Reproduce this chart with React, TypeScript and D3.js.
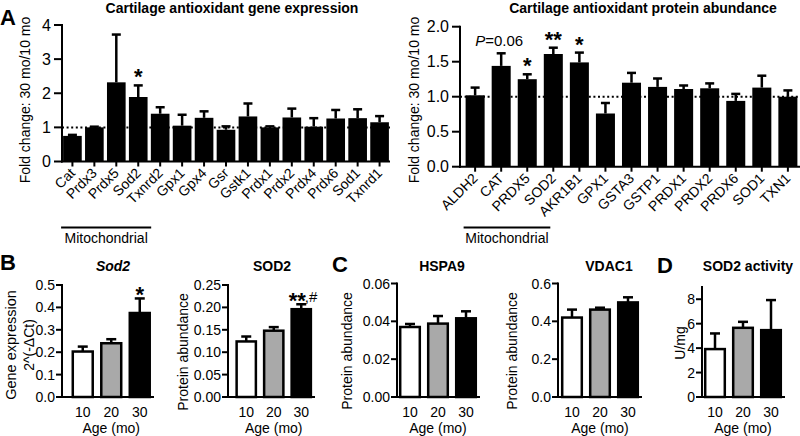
import React from "react";
import * as d3 from "d3";

const FONT = "'Liberation Sans', Arial, Helvetica, sans-serif";

// ---------- Panel A (left): gene expression ----------
const geneCats = ["Cat", "Prdx3", "Prdx5", "Sod2", "Txnrd2", "Gpx1", "Gpx4", "Gsr", "Gstk1", "Prdx1", "Prdx2", "Prdx4", "Prdx6", "Sod1", "Txnrd1"];
const geneMean = [0.75, 1.0, 2.32, 1.89, 1.4, 1.05, 1.28, 0.93, 1.32, 1.0, 1.29, 1.02, 1.26, 1.27, 1.15];
const geneErr = [0.03, 0.02, 1.4, 0.34, 0.19, 0.32, 0.19, 0.1, 0.38, 0.03, 0.26, 0.25, 0.25, 0.26, 0.18];
const geneSig = ["", "", "", "*", "", "", "", "", "", "", "", "", "", "", ""];
const geneTicks = [0, 1, 2, 3, 4];

// ---------- Panel A (right): protein abundance ----------
const protCats = ["ALDH2", "CAT", "PRDX5", "SOD2", "AKR1B1", "GPX1", "GSTA3", "GSTP1", "PRDX1", "PRDX2", "PRDX6", "SOD1", "TXN1"];
const protMean = [1.02, 1.44, 1.25, 1.61, 1.49, 0.76, 1.2, 1.14, 1.11, 1.12, 0.94, 1.13, 1.0];
const protErr = [0.11, 0.18, 0.07, 0.09, 0.14, 0.15, 0.14, 0.12, 0.05, 0.07, 0.1, 0.17, 0.09];
const protSig = ["", "P=0.06", "*", "**", "*", "", "", "", "", "", "", "", ""];
const protTicks = [0, 0.5, 1.0, 1.5, 2.0];

// ---------- Panels B, C, D: by age ----------
const ageCats = ["10", "20", "30"];
const ageFills = ["#ffffff", "#a9a9a9", "#000000"];

const sod2GeneMean = [0.203, 0.24, 0.375];
const sod2GeneErr = [0.022, 0.018, 0.065];
const sod2GeneSig = ["", "", "*"];
const sod2GeneTicks = [0, 0.1, 0.2, 0.3, 0.4, 0.5];

const sod2ProtMean = [0.124, 0.148, 0.196];
const sod2ProtErr = [0.011, 0.008, 0.011];
const sod2ProtSig = ["", "", "**,#"];
const sod2ProtTicks = [0, 0.05, 0.1, 0.15, 0.2, 0.25];

const hspa9Mean = [0.037, 0.0388, 0.0416];
const hspa9Err = [0.0016, 0.004, 0.0037];
const hspa9Ticks = [0, 0.02, 0.04, 0.06];

const vdac1Mean = [0.42, 0.462, 0.5];
const vdac1Err = [0.042, 0.01, 0.027];
const vdac1Ticks = [0, 0.2, 0.4, 0.6];

const sod2ActMean = [3.92, 5.66, 5.47];
const sod2ActErr = [1.28, 0.49, 2.46];
const sod2ActTicks = [0, 2, 4, 6, 8];

const noSig = ["", "", ""];

type TopProps = {
  cats: string[];
  means: number[];
  errs: number[];
  sig: string[];
  axisX: number;
  xRange: [number, number];
  pIn: number;
  pOut: number;
  y0: number;
  yTop: number;
  yMax: number;
  ticks: number[];
  fmt: (v: number) => string;
  title: string;
  titleX: number;
  yLabelX: number;
  bracketEndIdx: number;
  bracketEndOff: number;
};

function Sig({ s, x, y }: { s: string; x: number; y: number }) {
  if (!s) return null;
  if (s.startsWith("P=")) {
    return (
      <text x={x - 2} y={y - 6} textAnchor="middle" fontSize={15}>
        <tspan fontStyle="italic">P</tspan>
        {s.slice(1)}
      </text>
    );
  }
  if (s.includes(",")) {
    const [st, rest] = s.split(",");
    return (
      <g>
        <text x={x - 4} y={y + 3.5} textAnchor="middle" fontSize={22} fontWeight="bold">{st}</text>
        <text x={x + 3.5} y={y - 2} textAnchor="start" fontSize={15}>{"," + rest}</text>
      </g>
    );
  }
  return (
    <text x={x} y={y} textAnchor="middle" fontSize={22} fontWeight="bold">{s}</text>
  );
}

function TopPanel(p: TopProps) {
  const x = d3.scaleBand<string>().domain(p.cats).range(p.xRange).paddingInner(p.pIn).paddingOuter(p.pOut);
  const y = d3.scaleLinear().domain([0, p.yMax]).range([p.y0, p.yTop]);
  const bw = x.bandwidth();
  const cx = (c: string) => (x(c) as number) + bw / 2;
  const xEnd = p.xRange[1];
  const capW = 9;
  const tickLen = 8;
  const bStart = (x(p.cats[0]) as number) - 2;
  const bEnd = cx(p.cats[p.bracketEndIdx]) + p.bracketEndOff;
  return (
    <g>
      <text x={p.titleX} y={13} textAnchor="middle" fontWeight="bold" fontSize={14}>{p.title}</text>
      <line x1={p.axisX} x2={xEnd} y1={y(1)} y2={y(1)} stroke="#000" strokeWidth={2} strokeDasharray="2,2.6" />
      {p.cats.map((c, i) => (
        <rect key={"b" + c} x={x(c)} y={y(p.means[i])} width={bw} height={p.y0 - y(p.means[i])} fill="#000" />
      ))}
      {p.cats.map((c, i) => (
        <g key={"e" + c} stroke="#000" strokeWidth={2.5}>
          <line x1={cx(c)} x2={cx(c)} y1={y(p.means[i])} y2={y(p.means[i] + p.errs[i])} />
          <line x1={cx(c) - capW / 2} x2={cx(c) + capW / 2} y1={y(p.means[i] + p.errs[i])} y2={y(p.means[i] + p.errs[i])} />
        </g>
      ))}
      {p.cats.map((c, i) => (
        <Sig key={"s" + c} s={p.sig[i]} x={cx(c)} y={y(p.means[i] + p.errs[i]) - 1} />
      ))}
      {/* y axis */}
      <line x1={p.axisX} x2={p.axisX} y1={p.y0 + 1} y2={y(p.yMax) - 1} stroke="#000" strokeWidth={2} />
      {p.ticks.map((t) => (
        <g key={"yt" + t}>
          <line x1={p.axisX - tickLen} x2={p.axisX} y1={y(t)} y2={y(t)} stroke="#000" strokeWidth={2} />
          <text x={p.axisX - tickLen - 3} y={y(t)} dy="0.36em" textAnchor="end" fontSize={16}>{p.fmt(t)}</text>
        </g>
      ))}
      {/* x axis */}
      <line x1={p.axisX - 1} x2={xEnd} y1={p.y0} y2={p.y0} stroke="#000" strokeWidth={2} />
      {p.cats.map((c) => (
        <g key={"xt" + c}>
          <line x1={cx(c)} x2={cx(c)} y1={p.y0} y2={p.y0 + 5} stroke="#000" strokeWidth={2} />
          <text transform={`translate(${cx(c)},${p.y0 + 9}) rotate(-45)`} dy="0.35em" textAnchor="end" fontSize={14}>{c}</text>
        </g>
      ))}
      {/* y label */}
      <text transform={`translate(${p.yLabelX},100) rotate(-90)`} textAnchor="middle" fontSize={14}>Fold change: 30 mo/10 mo</text>
      {/* bracket */}
      <line x1={bStart} x2={bEnd} y1={227.5} y2={227.5} stroke="#000" strokeWidth={2} />
      <text x={(bStart + bEnd) / 2} y={243} textAnchor="middle" fontSize={14}>Mitochondrial</text>
    </g>
  );
}

type SmallProps = {
  means: number[];
  errs: number[];
  sig: string[];
  sigOff: number;
  axisX: number;
  xRange: [number, number];
  yTop: number;
  yMax: number;
  ticks: number[];
  fmt: (v: number) => string;
  title: string;
  italic?: boolean;
  titleX: number;
  yLabels: { text: string; x: number; size?: number }[];
  yLabelY: number;
};

function SmallPanel(p: SmallProps) {
  const y0 = 397;
  const x = d3.scaleBand<string>().domain(ageCats).range(p.xRange).paddingInner(0.3).paddingOuter(0.15);
  const y = d3.scaleLinear().domain([0, p.yMax]).range([y0, p.yTop]);
  const bw = x.bandwidth();
  const cx = (c: string) => (x(c) as number) + bw / 2;
  const capW = 10;
  const tickLen = 6;
  const midX = (cx(ageCats[0]) + cx(ageCats[ageCats.length - 1])) / 2;
  return (
    <g>
      <text x={p.titleX} y={270.5} textAnchor="middle" fontWeight="bold" fontStyle={p.italic ? "italic" : "normal"} fontSize={14}>{p.title}</text>
      {ageCats.map((c, i) => (
        <g key={"e" + c} stroke="#000" strokeWidth={2.5}>
          <line x1={cx(c)} x2={cx(c)} y1={y(p.means[i])} y2={y(p.means[i] + p.errs[i])} />
          <line x1={cx(c) - capW / 2} x2={cx(c) + capW / 2} y1={y(p.means[i] + p.errs[i])} y2={y(p.means[i] + p.errs[i])} />
        </g>
      ))}
      {ageCats.map((c, i) => (
        <rect key={"b" + c} x={x(c)} y={y(p.means[i])} width={bw} height={y0 - y(p.means[i])} fill={ageFills[i]} stroke="#000" strokeWidth={2.5} />
      ))}
      {ageCats.map((c, i) => (
        <Sig key={"s" + c} s={p.sig[i]} x={cx(c)} y={y(p.means[i] + p.errs[i]) + p.sigOff} />
      ))}
      <line x1={p.axisX} x2={p.axisX} y1={y0 + 1} y2={y(p.yMax) - 1} stroke="#000" strokeWidth={2} />
      {p.ticks.map((t) => (
        <g key={"yt" + t}>
          <line x1={p.axisX - tickLen} x2={p.axisX} y1={y(t)} y2={y(t)} stroke="#000" strokeWidth={2} />
          <text x={p.axisX - tickLen - 1} y={y(t)} dy="0.36em" textAnchor="end" fontSize={14}>{p.fmt(t)}</text>
        </g>
      ))}
      <line x1={p.axisX - 1} x2={p.xRange[1]} y1={y0} y2={y0} stroke="#000" strokeWidth={2} />
      {ageCats.map((c) => (
        <text key={"xl" + c} x={cx(c)} y={417} textAnchor="middle" fontSize={14}>{c}</text>
      ))}
      <text x={midX} y={433} textAnchor="middle" fontSize={14}>Age (mo)</text>
      {p.yLabels.map((l) => (
        <text key={l.text} transform={`translate(${l.x},${p.yLabelY}) rotate(-90)`} textAnchor="middle" fontSize={l.size ?? 14}>{l.text}</text>
      ))}
    </g>
  );
}

export default function App() {
  const f0 = d3.format("d");
  const f1 = d3.format(".1f");
  const f2 = d3.format(".2f");
  return (
    <svg width={800} height={436} style={{ position: "absolute", left: 0, top: 0, background: "#fff" }} fontFamily={FONT}>
      <rect x={0} y={0} width={800} height={436} fill="#fff" />
      <text x={0} y={25} fontSize={22} fontWeight="bold">A</text>
      <text x={0} y={270} fontSize={22} fontWeight="bold">B</text>
      <text x={332} y={271.5} fontSize={22} fontWeight="bold">C</text>
      <text x={657} y={273} fontSize={22} fontWeight="bold">D</text>

      <TopPanel
        cats={geneCats} means={geneMean} errs={geneErr} sig={geneSig}
        axisX={62} xRange={[62, 390]} pIn={0.15} pOut={0.05}
        y0={161.5} yTop={25} yMax={4} ticks={geneTicks} fmt={f0}
        title="Cartilage antioxidant gene expression" titleX={232} yLabelX={30}
        bracketEndIdx={4} bracketEndOff={-9}
      />
      <TopPanel
        cats={protCats} means={protMean} errs={protErr} sig={protSig}
        axisX={460} xRange={[463, 800]} pIn={0.27} pOut={0.1}
        y0={166.7} yTop={26.7} yMax={2} ticks={protTicks} fmt={f1}
        title="Cartilage antioxidant protein abundance" titleX={643} yLabelX={419}
        bracketEndIdx={3} bracketEndOff={-3}
      />

      <SmallPanel
        means={sod2GeneMean} errs={sod2GeneErr} sig={sod2GeneSig} sigOff={4}
        axisX={62} xRange={[68.5, 154]} yTop={285} yMax={0.5} ticks={sod2GeneTicks} fmt={f1}
        title="Sod2" italic titleX={113}
        yLabels={[{ text: "Gene expression", x: 16, size: 14.5 }, { text: "2^(-ΔCt)", x: 34 }]} yLabelY={345}
      />
      <SmallPanel
        means={sod2ProtMean} errs={sod2ProtErr} sig={sod2ProtSig} sigOff={0}
        axisX={228} xRange={[232.5, 315]} yTop={285} yMax={0.25} ticks={sod2ProtTicks} fmt={f2}
        title="SOD2" titleX={272}
        yLabels={[{ text: "Protein abundance", x: 188 }]} yLabelY={352}
      />
      <SmallPanel
        means={hspa9Mean} errs={hspa9Err} sig={noSig} sigOff={0}
        axisX={397} xRange={[396, 480]} yTop={283.5} yMax={0.06} ticks={hspa9Ticks} fmt={f2}
        title="HSPA9" titleX={442}
        yLabels={[{ text: "Protein abundance", x: 352 }]} yLabelY={351}
      />
      <SmallPanel
        means={vdac1Mean} errs={vdac1Err} sig={noSig} sigOff={0}
        axisX={558} xRange={[558, 642]} yTop={283.5} yMax={0.6} ticks={vdac1Ticks} fmt={f1}
        title="VDAC1" titleX={609}
        yLabels={[{ text: "Protein abundance", x: 517 }]} yLabelY={351}
      />
      <SmallPanel
        means={sod2ActMean} errs={sod2ActErr} sig={noSig} sigOff={0}
        axisX={702} xRange={[701, 785]} yTop={287} yMax={9} ticks={sod2ActTicks} fmt={f0}
        title="SOD2 activity" titleX={748}
        yLabels={[{ text: "U/mg", x: 685 }]} yLabelY={343}
      />
    </svg>
  );
}
